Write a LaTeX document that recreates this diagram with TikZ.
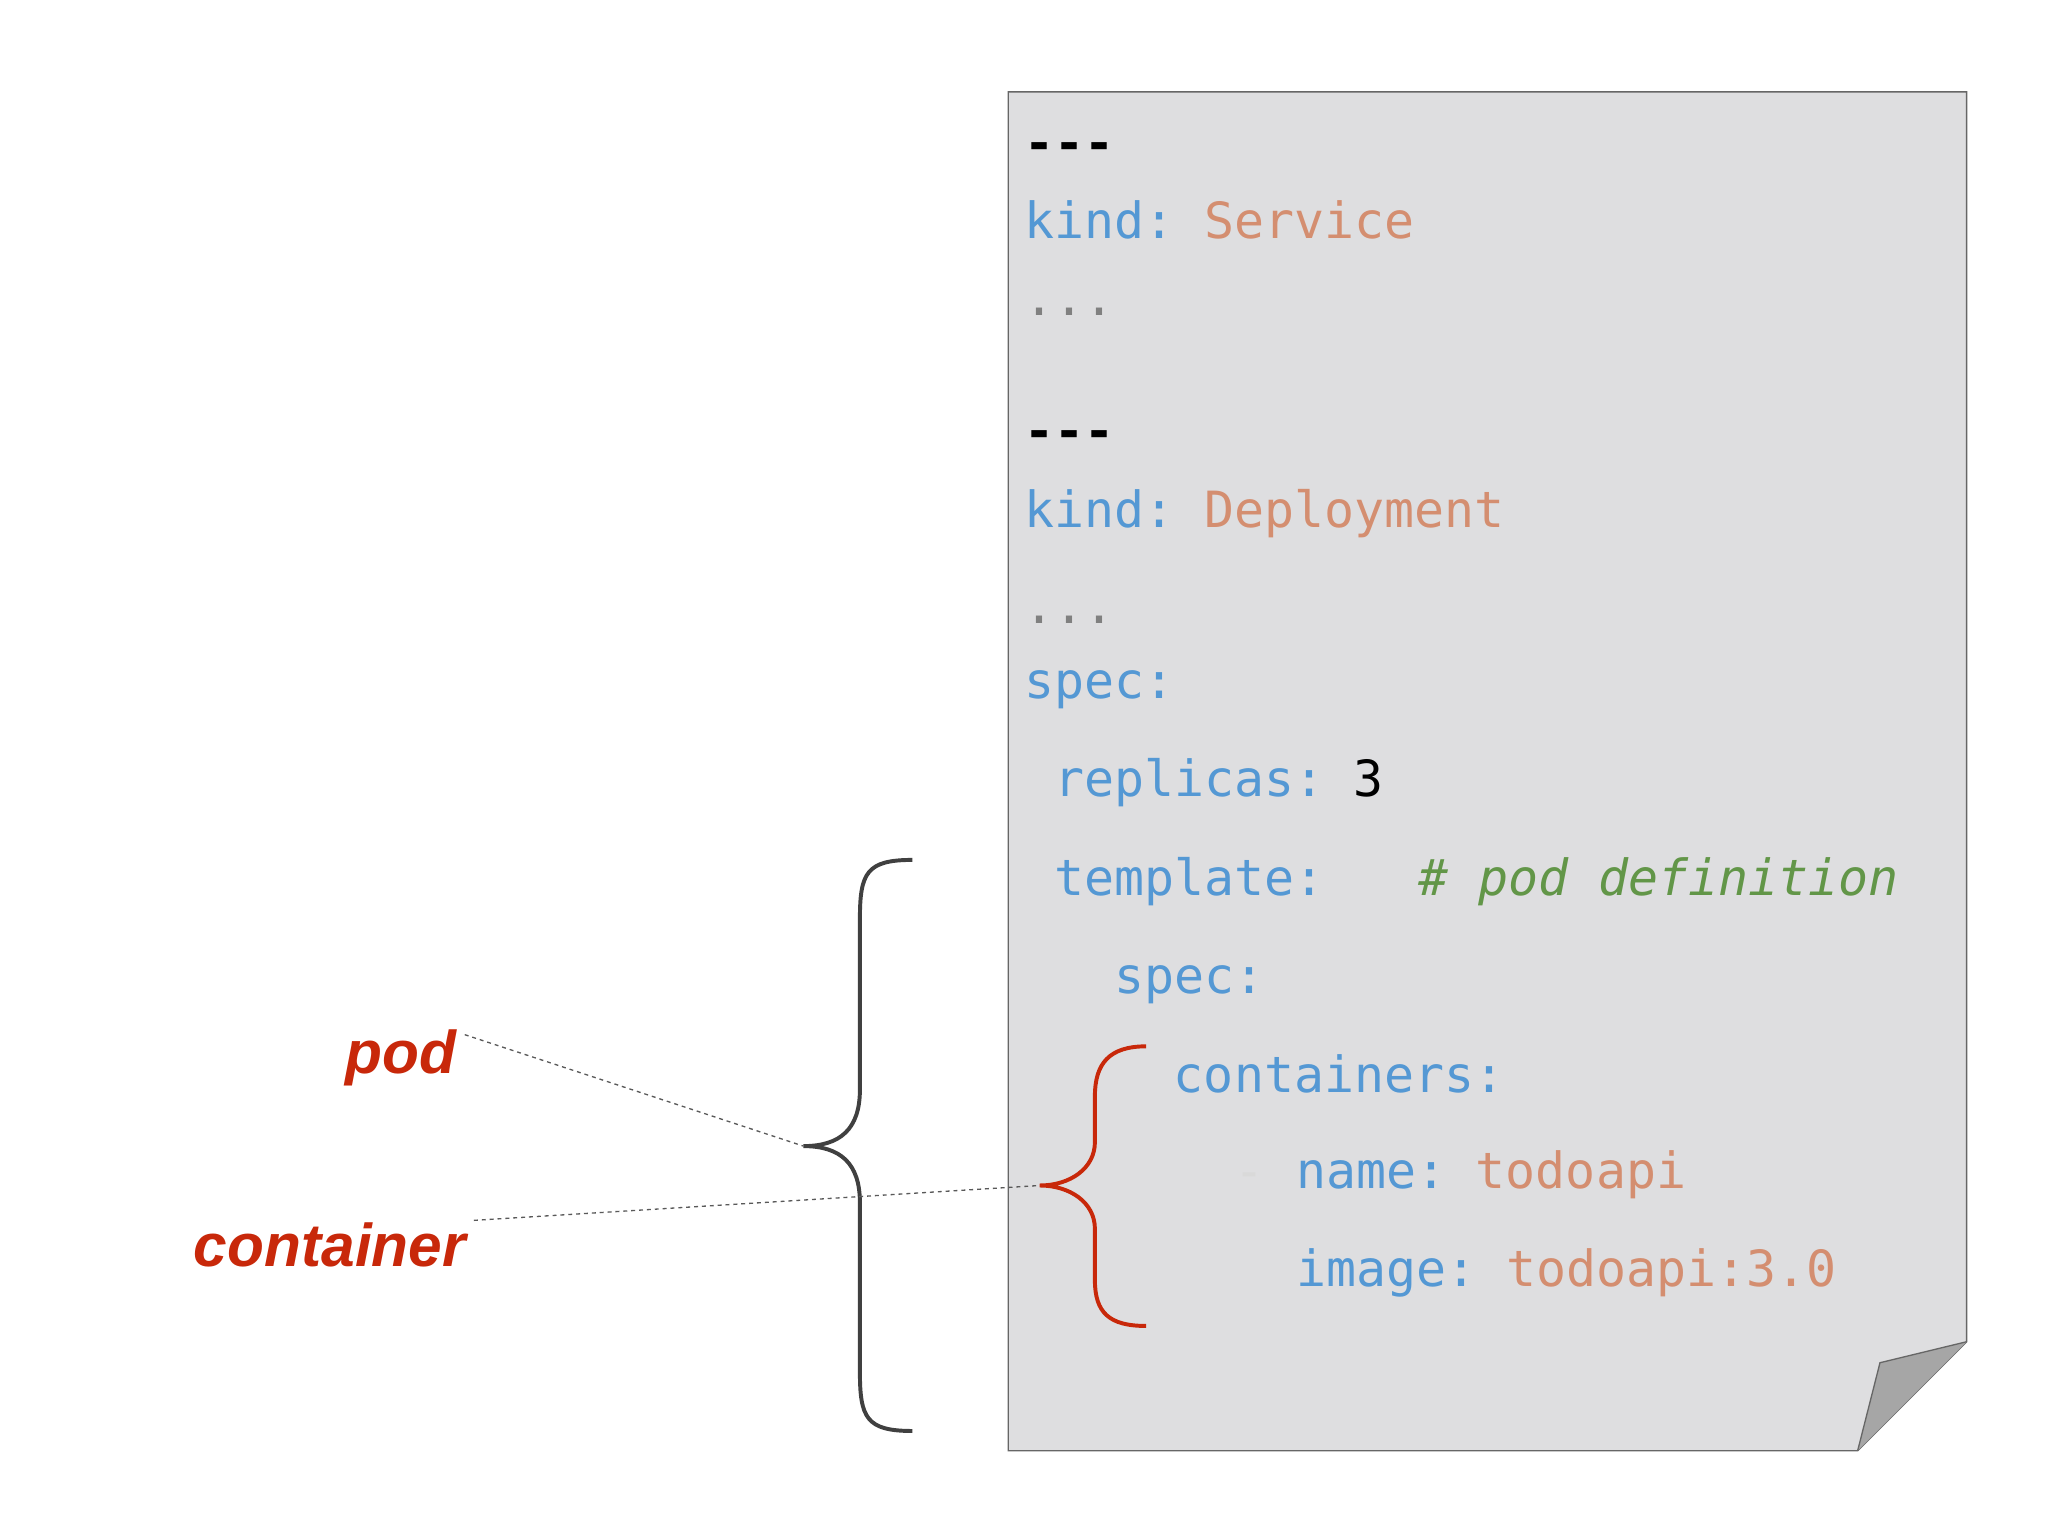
\documentclass[tikz,border=0pt]{standalone}
\usepackage{fontspec}
\setmonofont{DejaVu Sans Mono}
\setsansfont{Liberation Sans}
\begin{document}
\begin{tikzpicture}[x=1pt,y=-1pt]
\definecolor{kb}{RGB}{84,152,212}
\definecolor{ks}{RGB}{212,142,112}
\definecolor{kg}{RGB}{98,150,72}
\definecolor{kr}{RGB}{200,40,10}
\definecolor{paper}{RGB}{222,222,224}
\tikzset{code/.style={anchor=base west,inner sep=0pt,font=\ttfamily\fontsize{38}{40}\selectfont},
 lbl/.style={anchor=base east,inner sep=0pt,text=kr,font=\sffamily\bfseries\itshape\fontsize{46}{48}\selectfont},
 lead/.style={dashed,gray!70!black,line width=1pt}}
\useasboundingbox (0,0) rectangle (1560,1170);
\fill[white] (0,0) rectangle (1560,1170);
\draw[fill=paper,draw=gray!80!black,line width=1pt] (768,70)--(1498,70)--(1498,1022)--(1415,1105)--(768,1105)--cycle;
\fill[gray!70] (1415,1105)--(1432,1038)--(1498,1022)--cycle;
\draw[gray!80!black,line width=1pt] (1415,1105)--(1432,1038)--(1498,1022);
\node[code] (d1) at (780,122) {\textbf{---}};
\node[code,text=kb] (k1) at (780,182) {kind:};
\node[code,text=ks] (s1) at (917,182) {Service};
\node[code,text=gray] (e1) at (780,240) {...};
\node[code] (d2) at (780,342) {\textbf{---}};
\node[code,text=kb] (k2) at (780,402) {kind:};
\node[code,text=ks] (s2) at (917,402) {Deployment};
\node[code,text=gray] (e2) at (780,475) {...};
\node[code,text=kb] (sp) at (780,532) {spec:};
\node[code,text=kb] (rp) at (803,607) {replicas:};
\node[code] (n3) at (1031,607) {3};
\node[code,text=kb] (tp) at (803,682) {template:};
\node[code,text=kg] (cm) at (1080,682) {\itshape\# pod definition};
\node[code,text=kb] (sp2) at (849,757) {spec:};
\node[code,text=kb] (ct) at (894,832) {containers:};
\node[code,text=gray!30] (ds) at (940,905) {-};
\node[code,text=kb] (nm) at (987,905) {name:};
\node[code,text=ks] (nv) at (1124,905) {todoapi};
\node[code,text=kb] (im) at (987,980) {image:};
\node[code,text=ks] (iv) at (1147,980) {todoapi:3.0};
% braces
\coordinate (pt) at (612,873);
\coordinate (ctip) at (792,903);
\draw[gray!50!black,line width=3pt] (695,655) .. controls (660,655) and (655,665) .. (655,700) -- (655,830) .. controls (655,860) and (640,873) .. (pt) .. controls (640,873) and (655,886) .. (655,916) -- (655,1045) .. controls (655,1080) and (660,1090) .. (695,1090);
\draw[kr,line width=3pt] (873,797) .. controls (845,797) and (834,810) .. (834,835) -- (834,870) .. controls (834,890) and (815,903) .. (ctip) .. controls (815,903) and (834,916) .. (834,936) -- (834,975) .. controls (834,1000) and (845,1010) .. (873,1010);
\node[lbl] (pod) at (348,818) {pod};
\node[lbl] (con) at (355,965) {container};
\draw[lead] (pod.east) ++(6,-18) coordinate (pe) -- (pt);
\draw[lead] (con.east) ++(6,-19) -- (ctip);
\end{tikzpicture}
\end{document}
